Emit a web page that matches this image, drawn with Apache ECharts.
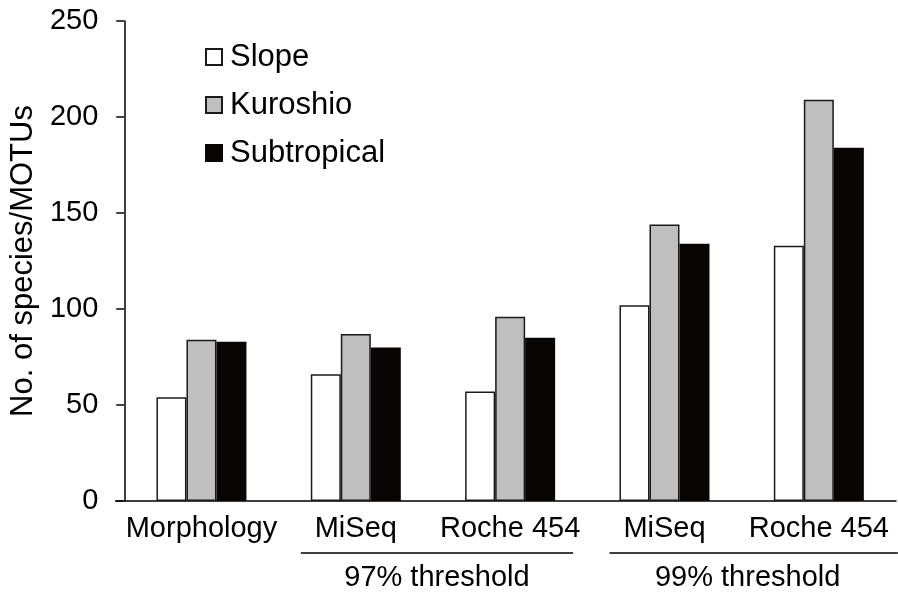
<!DOCTYPE html>
<html>
<head>
<meta charset="utf-8">
<script src="https://cdn.jsdelivr.net/npm/echarts@6/dist/echarts.min.js"></script>
<style>html,body{margin:0;padding:0;background:#fff;}#c{width:898px;height:594px;}</style>
</head>
<body>
<div id="c"></div>
<script>
var categories = ['Morphology', 'MiSeq', 'Roche 454', 'MiSeq', 'Roche 454'];
var slope = [54, 66, 57, 102, 133];
var kuroshio = [84, 87, 96, 144, 209];
var subtropical = [83, 80, 85, 134, 184];
var yTicks = [0, 50, 100, 150, 200, 250];
var groups = [
  {name: '97% threshold', from: 1, to: 2},
  {name: '99% threshold', from: 3, to: 4}
];

var FONT = '"Liberation Sans", Arial, sans-serif';
var chart = echarts.init(document.getElementById('c'));
var barStyle = function (color, border) {
  return {color: color, borderColor: border, borderWidth: 1.5};
};
chart.setOption({
  animation: false,
  textStyle: {fontFamily: FONT, color: '#000'},
  grid: {left: 123, right: 2, top: 21, bottom: 93, containLabel: false},
  legend: {
    orient: 'vertical', left: 205, top: 41, padding: 0, itemWidth: 16, itemHeight: 16, itemGap: 16,
    icon: 'rect',
    textStyle: {fontSize: 31, fontFamily: FONT, color: '#000', lineHeight: 32, padding: [0, 0, 0, 3]},
    data: ['Slope', 'Kuroshio', 'Subtropical']
  },
  xAxis: {
    type: 'category', data: categories,
    axisLine: {lineStyle: {color: '#000', width: 1.5}},
    axisTick: {show: false},
    axisLabel: {fontSize: 29, color: '#000', fontFamily: FONT, margin: 13, interval: 0}
  },
  yAxis: {
    type: 'value', min: yTicks[0], max: yTicks[yTicks.length - 1], interval: 50,
    name: 'No. of species/MOTUs', nameLocation: 'middle', nameGap: 83,
    nameTextStyle: {fontSize: 31, color: '#000', fontFamily: FONT},
    axisLine: {show: true, lineStyle: {color: '#000', width: 1.5}},
    axisTick: {show: true, inside: false, length: 8, lineStyle: {color: '#000', width: 1.5}},
    splitLine: {show: false},
    axisLabel: {fontSize: 29, color: '#000', fontFamily: FONT, margin: 26}
  },
  series: [
    {name: 'Slope', type: 'bar', data: slope, barWidth: 30, barGap: '0%', itemStyle: barStyle('#ffffff', '#1a1a1a')},
    {name: 'Kuroshio', type: 'bar', data: kuroshio, barWidth: 30, barGap: '0%', itemStyle: barStyle('#bfbfbf', '#1a1a1a')},
    {name: 'Subtropical', type: 'bar', data: subtropical, barWidth: 30, barGap: '0%', itemStyle: barStyle('#080503', '#080503')}
  ]
});

var graphics = [];
var lineY = 553;
groups.forEach(function (g, i) {
  var x1 = chart.convertToPixel({xAxisIndex: 0}, g.from) - 55;
  var x2 = chart.convertToPixel({xAxisIndex: 0}, g.to) + (i === 0 ? 63 : 79);
  graphics.push({type: 'line', shape: {x1: x1, y1: lineY, x2: x2, y2: lineY}, style: {stroke: '#000', lineWidth: 1.5}});
  graphics.push({type: 'text', x: (x1 + x2) / 2 - (i === 0 ? 0 : 6), y: 578,
    style: {text: g.name, font: '29px ' + FONT, fill: '#000', textAlign: 'center', textVerticalAlign: 'middle'}});
});
// x-axis baseline extends to the outer end of the y ticks
var y0 = chart.convertToPixel({yAxisIndex: 0}, 0);
graphics.push({type: 'line', shape: {x1: 115, y1: y0, x2: 123, y2: y0}, style: {stroke: '#000', lineWidth: 1.5}});
chart.setOption({graphic: graphics});
</script>
</body>
</html>
